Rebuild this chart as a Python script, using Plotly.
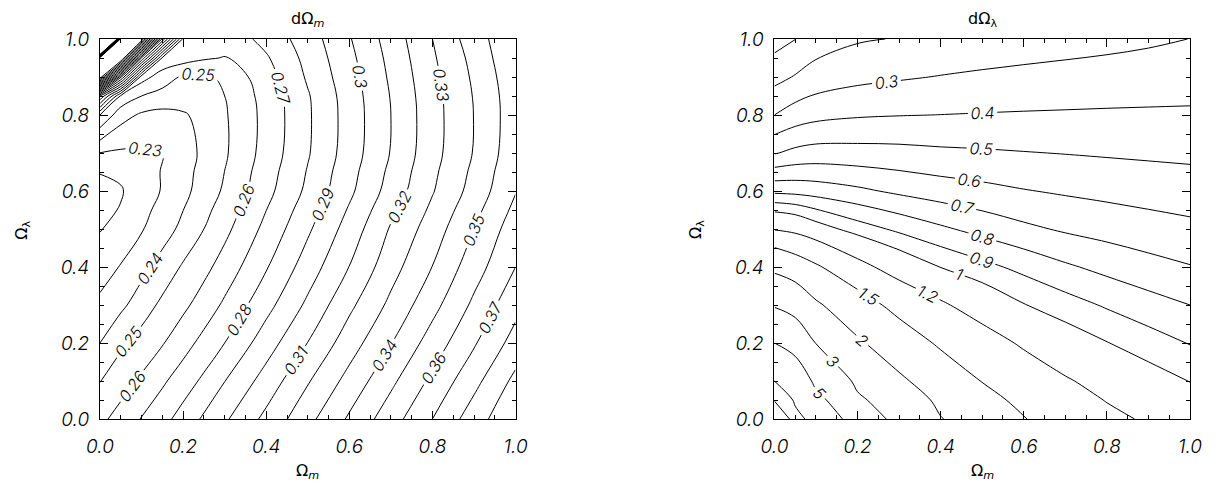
import plotly.graph_objects as go

# ---------------- left panel: dOmega_m ----------------
om_x = [0, 0.05, 0.1, 0.15, 0.2, 0.25, 0.3, 0.4, 0.5, 0.6, 0.7, 0.8, 0.9, 1.0]
om_y = [0, 0.1, 0.2, 0.3, 0.4, 0.5, 0.55, 0.6, 0.65, 0.7, 0.8, 0.85, 0.9, 0.95, 1.0]
dOm_y000 = [0.2575, 0.2639, 0.2705, 0.2768, 0.2839, 0.2915, 0.2985, 0.3126, 0.3271, 0.3414, 0.3557, 0.3700, 0.3852, 0.3990]
dOm_y010 = [0.2497, 0.2555, 0.2615, 0.2684, 0.2751, 0.2820, 0.2898, 0.3041, 0.3191, 0.3334, 0.3478, 0.3623, 0.3770, 0.3926]
dOm_y020 = [0.2400, 0.2483, 0.2541, 0.2593, 0.2661, 0.2731, 0.2800, 0.2954, 0.3102, 0.3254, 0.3396, 0.3545, 0.3689, 0.3840]
dOm_y030 = [0.2323, 0.2378, 0.2450, 0.2522, 0.2578, 0.2644, 0.2717, 0.2867, 0.3020, 0.3178, 0.3323, 0.3468, 0.3620, 0.3768]
dOm_y040 = [0.2253, 0.2306, 0.2369, 0.2438, 0.2512, 0.2572, 0.2641, 0.2792, 0.2948, 0.3102, 0.3261, 0.3402, 0.3556, 0.3700]
dOm_y050 = [0.2195, 0.2234, 0.2292, 0.2357, 0.2425, 0.2500, 0.2574, 0.2728, 0.2884, 0.3042, 0.3210, 0.3349, 0.3500, 0.3655]
dOm_y055 = [0.2178, 0.2205, 0.2270, 0.2332, 0.2399, 0.2472, 0.2545, 0.2699, 0.2853, 0.3011, 0.3176, 0.3321, 0.3469, 0.3625]
dOm_y060 = [0.2160, 0.2193, 0.2247, 0.2307, 0.2373, 0.2443, 0.2515, 0.2669, 0.2822, 0.2979, 0.3141, 0.3293, 0.3438, 0.3595]
dOm_y065 = [0.2205, 0.2215, 0.2268, 0.2304, 0.2366, 0.2432, 0.2501, 0.2654, 0.2807, 0.2964, 0.3123, 0.3279, 0.3422, 0.3580]
dOm_y070 = [0.2298, 0.2285, 0.2288, 0.2300, 0.2359, 0.2420, 0.2487, 0.2638, 0.2791, 0.2948, 0.3105, 0.3265, 0.3406, 0.3565]
dOm_y080 = [0.2600, 0.2440, 0.2385, 0.2370, 0.2388, 0.2433, 0.2489, 0.2631, 0.2786, 0.2943, 0.3100, 0.3261, 0.3402, 0.3557]
dOm_y085 = [0.3100, 0.2583, 0.2500, 0.2465, 0.2455, 0.2475, 0.2500, 0.2638, 0.2791, 0.2948, 0.3105, 0.3265, 0.3406, 0.3560]
dOm_y090 = [0.4600, 0.3420, 0.2642, 0.2550, 0.2485, 0.2475, 0.2525, 0.2657, 0.2813, 0.2960, 0.3116, 0.3274, 0.3416, 0.3570]
dOm_y095 = [0.7800, 0.4700, 0.3390, 0.2683, 0.2648, 0.2613, 0.2595, 0.2688, 0.2831, 0.2974, 0.3128, 0.3286, 0.3430, 0.3585]
dOm_y100 = [3.0000, 0.8000, 0.4600, 0.3375, 0.2680, 0.2638, 0.2632, 0.2733, 0.2850, 0.2992, 0.3143, 0.3300, 0.3453, 0.3587]
dOm_levels = [0.22, 0.45, 0.01]      # start, end, step (labelled)
dOm_corner = [0.85, 1.2, 0.025]      # dense lines at the singular corner

# ---------------- right panel: dOmega_lambda ----------------
ol_x = [0, 0.05, 0.1, 0.2, 0.3, 0.4, 0.5, 0.6, 0.7, 0.8, 0.9, 1.0]
ol_y = [0, 0.05, 0.1, 0.2, 0.3, 0.4, 0.5, 0.6, 0.7, 0.8, 0.9, 1.0]
dOl_y000 = [40.0, 12.5, 7.14, 3.78, 2.65, 2.02, 1.75, 1.51, 1.38, 1.26, 1.17, 1.10]
dOl_y005 = [18.8, 8.8, 5.6, 3.2, 2.34, 1.89, 1.61, 1.42, 1.30, 1.19, 1.115, 1.05]
dOl_y010 = [10.0, 6.8, 4.5, 2.74, 2.09, 1.73, 1.49, 1.34, 1.22, 1.13, 1.055, 0.997]
dOl_y020 = [5.0, 4.03, 2.97, 2.07, 1.70, 1.45, 1.30, 1.17, 1.07, 1.004, 0.946, 0.895]
dOl_y030 = [2.87, 2.49, 2.07, 1.66, 1.39, 1.23, 1.10, 1.005, 0.943, 0.888, 0.84, 0.80]
dOl_y040 = [1.83, 1.68, 1.54, 1.27, 1.10, 0.997, 0.93, 0.871, 0.815, 0.771, 0.734, 0.705]
dOl_y050 = [1.185, 1.14, 1.06, 0.95, 0.878, 0.817, 0.766, 0.721, 0.687, 0.663, 0.642, 0.624]
dOl_y060 = [0.775, 0.768, 0.754, 0.72, 0.681, 0.651, 0.628, 0.605, 0.588, 0.574, 0.561, 0.549]
dOl_y070 = [0.493, 0.5255, 0.54, 0.537, 0.531, 0.519, 0.512, 0.504, 0.497, 0.49, 0.484, 0.479]
dOl_y080 = [0.30, 0.346, 0.371, 0.39, 0.397, 0.401, 0.405, 0.408, 0.41, 0.412, 0.413, 0.414]
dOl_y090 = [0.1685, 0.207, 0.2425, 0.274, 0.29, 0.304, 0.317, 0.328, 0.337, 0.344, 0.351, 0.356]
dOl_y100 = [0.06, 0.098, 0.15, 0.19, 0.205, 0.217, 0.229, 0.242, 0.255, 0.269, 0.284, 0.301]
dOl_levels = [0.1, 0.2, 0.3, 0.4, 0.5, 0.6, 0.7, 0.8, 0.9, 1, 1.2, 1.5, 2, 3, 5, 10, 20]
dOl_unlabelled = [0.1, 10, 20]

tick_vals = [0.0, 0.2, 0.4, 0.6, 0.8, 1.0]
tick_text = ["0.0", "0.2", "0.4", "0.6", "0.8", "1.0"]

dOm = [dOm_y000, dOm_y010, dOm_y020, dOm_y030, dOm_y040, dOm_y050, dOm_y055, dOm_y060,
       dOm_y065, dOm_y070, dOm_y080, dOm_y085, dOm_y090, dOm_y095, dOm_y100]
dOl = [dOl_y000, dOl_y005, dOl_y010, dOl_y020, dOl_y030, dOl_y040, dOl_y050,
       dOl_y060, dOl_y070, dOl_y080, dOl_y090, dOl_y100]

FONT = "Inter, DejaVu Sans, sans-serif"
label_font = dict(family=FONT, size=16, color="black", style="italic", weight=300)

fig = go.Figure()
fig.add_trace(go.Contour(
    x=om_x, y=om_y, z=dOm, xaxis="x", yaxis="y", showscale=False, hoverinfo="skip",
    contours=dict(start=dOm_levels[0], end=dOm_levels[1], size=dOm_levels[2],
                  coloring="none", showlabels=True, labelfont=label_font, labelformat="~g"),
    line=dict(color="black", width=1, smoothing=1.2)))
fig.add_trace(go.Contour(
    x=om_x, y=om_y, z=dOm, xaxis="x", yaxis="y", showscale=False, hoverinfo="skip",
    contours=dict(start=dOm_corner[0], end=dOm_corner[1], size=dOm_corner[2],
                  coloring="none", showlabels=False),
    line=dict(color="black", width=1, smoothing=1)))

for v in dOl_levels:
    fig.add_trace(go.Contour(
        x=ol_x, y=ol_y, z=dOl, xaxis="x2", yaxis="y2", showscale=False, hoverinfo="skip",
        contours=dict(start=v, end=v, size=1, coloring="none",
                      showlabels=(v not in dOl_unlabelled), labelfont=label_font, labelformat="~g"),
        line=dict(color="black", width=1, smoothing=1)))

tickfont = dict(family=FONT, size=19, color="black", style="italic", weight=300)
axis_common = dict(range=[0, 1], tickvals=tick_vals, ticktext=tick_text, ticks="inside",
                   ticklen=8, tickwidth=1, tickcolor="black", showline=True, linecolor="black",
                   linewidth=1, mirror="ticks", showgrid=False, zeroline=False, tickfont=tickfont,
                   minor=dict(dtick=0.05, tick0=0, ticks="inside", ticklen=4, tickcolor="black",
                              showgrid=False))

# page has an 8px body margin: figure pixel = page pixel - 8
OFF = 8
W, H = 1222 - 2 * OFF, 491 - 2 * OFF
ml, mt = 100 - OFF, 39 - OFF
mr = W - (1199 - OFF)
mb = H - (419 - OFF)
pw = W - ml - mr
ph = H - mt - mb
d1 = [0, (519 - 100) / pw]
d2 = [(780 - 100) / pw, 1]

fig.update_layout(
    width=W, height=H, margin=dict(l=ml, r=mr, t=mt, b=mb),
    paper_bgcolor="white", plot_bgcolor="white", showlegend=False,
    xaxis=dict(domain=d1, anchor="y", ticklabelstandoff=10, **axis_common),
    yaxis=dict(domain=[0, 1], anchor="x", ticklabelstandoff=6, **axis_common),
    xaxis2=dict(domain=d2, anchor="y2", ticklabelstandoff=10, **axis_common),
    yaxis2=dict(domain=[0, 1], anchor="x2", ticklabelstandoff=6, **axis_common),
)

tfont = dict(family="DejaVu Sans", size=16, color="black")
def py(page_y):
    return 1 - (page_y - 39) / ph
def pxx(page_x):
    return (page_x - 100) / pw

annos = [
    dict(text="dΩ<sub><i>m</i></sub>", x=pxx(309.5), y=py(20)),
    dict(text="dΩ<sub>λ</sub>", x=pxx(989.5), y=py(20)),
    dict(text="Ω<sub><i>m</i></sub>", x=pxx(309.5), y=py(471)),
    dict(text="Ω<sub><i>m</i></sub>", x=pxx(989.5), y=py(471)),
    dict(text="Ω<sub>λ</sub>", x=pxx(21), y=py(230), textangle=-90),
    dict(text="Ω<sub>λ</sub>", x=pxx(701), y=py(230), textangle=-90),
]
for a in annos:
    fig.add_annotation(xref="paper", yref="paper", showarrow=False, font=tfont,
                       xanchor="center", yanchor="middle", **a)

fig.write_html("out.html")
